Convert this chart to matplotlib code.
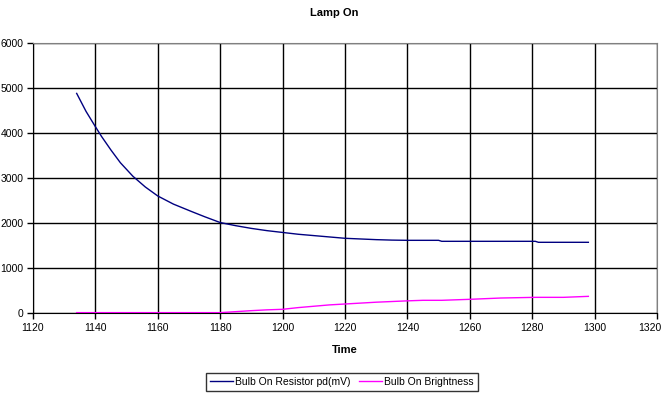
import matplotlib
matplotlib.use("Agg")
import matplotlib.pyplot as plt
from matplotlib.transforms import ScaledTranslation

plt.rcParams['font.family'] = ['Liberation Sans', 'DejaVu Sans']

# readings
time = [1134, 1137, 1140, 1142, 1145, 1148, 1152, 1156, 1160, 1165, 1171, 1175, 1180,
        1185, 1190, 1195, 1200, 1205, 1210, 1215, 1220, 1225, 1230, 1235, 1240,
        1245, 1250, 1251, 1260, 1270, 1281, 1282, 1290, 1298]
resistor_pd = [4880, 4480, 4140, 3920, 3620, 3340, 3040, 2800, 2600, 2420, 2250, 2140, 2010,
               1940, 1880, 1830, 1790, 1750, 1720, 1690, 1660, 1645, 1630, 1620, 1615,
               1615, 1615, 1593, 1593, 1593, 1593, 1571, 1571, 1571]
brightness = [8, 8, 8, 8, 8, 8, 8, 8, 8, 8, 8, 8, 8,
              30, 52, 70, 82, 120, 150, 180, 200, 220, 240, 255, 270,
              282, 282, 282, 304, 333, 348, 348, 348, 370]

fig = plt.figure(figsize=(6.68, 3.95), dpi=100)
ax = fig.add_axes([33/668, 1 - 313/395, 624/668, 270/395])

ax.plot(time, resistor_pd, color='#000080', lw=1, label='Bulb On Resistor pd(mV)')
ax.plot(time, brightness, color='#ff00ff', lw=1, label='Bulb On Brightness')

ax.set_xlim(1120, 1320)
ax.set_ylim(0, 6000)
ax.set_xticks(range(1120, 1321, 20))
ax.set_yticks(range(0, 6001, 1000))
ax.grid(True, color='black', lw=1)
ax.set_axisbelow(True)
ax.tick_params(labelsize=7.5, length=4, width=1, color='black', pad=3)

# keep the last x label inside the figure, as the original does
last = ax.get_xticklabels()[-1]
last.set_horizontalalignment('right')
last.set_transform(last.get_transform() + ScaledTranslation(4/100, 0, fig.dpi_scale_trans))

for s in ['top', 'right']:
    ax.spines[s].set_color('#808080')
for s in ['left', 'bottom']:
    ax.spines[s].set_color('black')

ax.set_xlabel('Time', fontsize=8, fontweight='bold', labelpad=9)
fig.text(0.5, 1 - 13/395, 'Lamp On', ha='center', va='center', fontsize=8, fontweight='bold')

leg = fig.legend(loc='center', bbox_to_anchor=(342/668, 1 - 382/395), ncol=2,
                 fontsize=7.5, frameon=True, fancybox=False, edgecolor='black',
                 handlelength=2.2, handletextpad=0.2, columnspacing=0.8,
                 borderpad=0.4, borderaxespad=0)
leg.get_frame().set_linewidth(1)

fig.savefig('out.png', dpi=100)
